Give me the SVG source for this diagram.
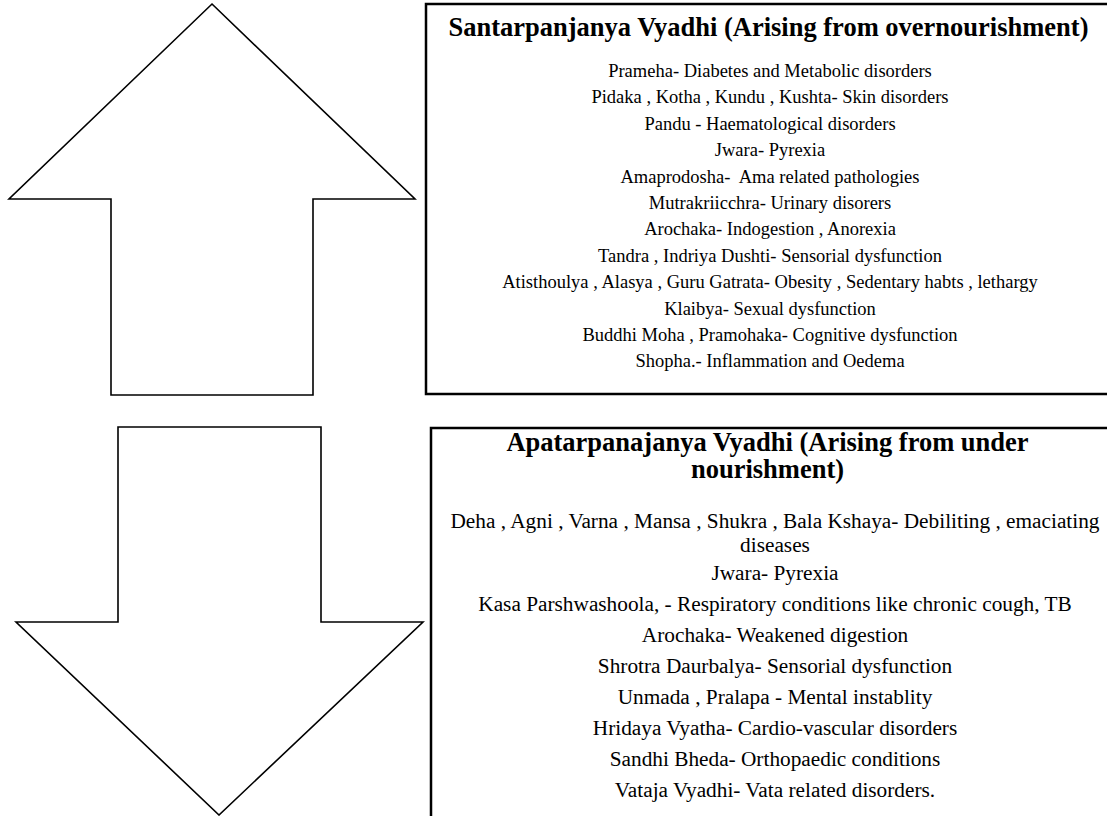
<svg xmlns="http://www.w3.org/2000/svg" width="1107" height="816" viewBox="0 0 1107 816">
<style>
.arrow{fill:#fff;stroke:#000;stroke-width:1.6;stroke-linejoin:miter}
.box{fill:#fff;stroke:#000;stroke-width:2.5}
.title{font-family:"Liberation Serif","Times New Roman",serif;font-weight:bold;font-size:26.5px;fill:#000;text-anchor:middle}
.t1{font-family:"Liberation Serif","Times New Roman",serif;font-size:18.5px;fill:#000;text-anchor:middle}
.t2{font-family:"Liberation Serif","Times New Roman",serif;font-size:21.3px;fill:#000;text-anchor:middle}
</style>
<rect width="1107" height="816" fill="#fff"/>
<g id="connectors">
<polygon id="up-arrow" class="arrow" points="212,4 415,199 313,199 313,395 111,395 111,199 9,199"/>
<polygon id="down-arrow" class="arrow" points="118,427 321,427 321,622 423,622 219,815 16,622 118,622"/>
</g>
<g id="santarpana">
<rect class="box" x="426" y="4" width="720" height="390"/>
<text class="title" x="768.5" y="36">Santarpanjanya Vyadhi (Arising from overnourishment)</text>
<text class="t1" x="770" y="77">Prameha- Diabetes and Metabolic disorders</text>
<text class="t1" x="770" y="103.4">Pidaka , Kotha , Kundu , Kushta- Skin disorders</text>
<text class="t1" x="770" y="129.8">Pandu - Haematological disorders</text>
<text class="t1" x="770" y="156.2">Jwara- Pyrexia</text>
<text class="t1" x="770" y="182.6" xml:space="preserve">Amaprodosha-  Ama related pathologies</text>
<text class="t1" x="770" y="209">Mutrakriicchra- Urinary disorers</text>
<text class="t1" x="770" y="235.4">Arochaka- Indogestion , Anorexia</text>
<text class="t1" x="770" y="261.8">Tandra , Indriya Dushti- Sensorial dysfunction</text>
<text class="t1" x="770" y="288.2">Atisthoulya , Alasya , Guru Gatrata- Obesity , Sedentary habts , lethargy</text>
<text class="t1" x="770" y="314.6">Klaibya- Sexual dysfunction</text>
<text class="t1" x="770" y="341">Buddhi Moha , Pramohaka- Cognitive dysfunction</text>
<text class="t1" x="770" y="367.4">Shopha.- Inflammation and Oedema</text>
</g>
<g id="apatarpana">
<rect class="box" x="431" y="428" width="720" height="420"/>
<text class="title" x="767.5" y="451">Apatarpanajanya Vyadhi (Arising from under</text>
<text class="title" x="767.5" y="478">nourishment)</text>
<text class="t2" x="775" y="528">Deha , Agni , Varna , Mansa , Shukra , Bala Kshaya- Debiliting , emaciating</text>
<text class="t2" x="775" y="552">diseases</text>
<text class="t2" x="775" y="580">Jwara- Pyrexia</text>
<text class="t2" x="775" y="611">Kasa Parshwashoola, - Respiratory conditions like chronic cough, TB</text>
<text class="t2" x="775" y="642">Arochaka- Weakened digestion</text>
<text class="t2" x="775" y="673">Shrotra Daurbalya- Sensorial dysfunction</text>
<text class="t2" x="775" y="704">Unmada , Pralapa - Mental instablity</text>
<text class="t2" x="775" y="735">Hridaya Vyatha- Cardio-vascular disorders</text>
<text class="t2" x="775" y="766">Sandhi Bheda- Orthopaedic conditions</text>
<text class="t2" x="775" y="797">Vataja Vyadhi- Vata related disorders.</text>
</g>
</svg>
